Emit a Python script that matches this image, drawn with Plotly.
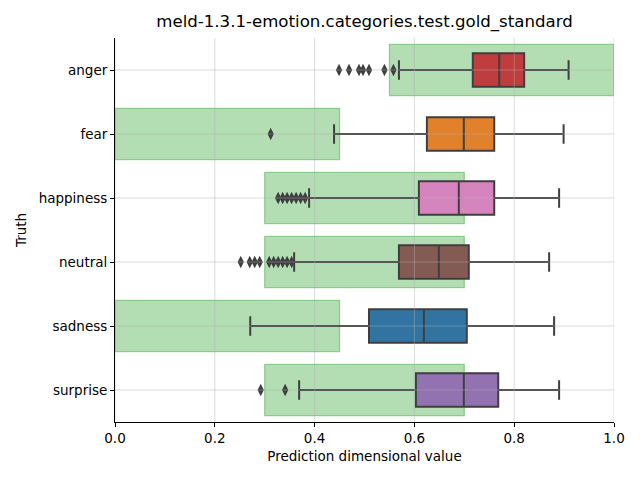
import plotly.graph_objects as go

categories = ["anger", "fear", "happiness", "neutral", "sadness", "surprise"]
q1 = [0.717, 0.625, 0.609, 0.569, 0.509, 0.603]
median = [0.770, 0.699, 0.689, 0.649, 0.619, 0.699]
q3 = [0.820, 0.760, 0.760, 0.709, 0.705, 0.768]
whisker_low = [0.569, 0.439, 0.389, 0.359, 0.271, 0.369]
whisker_high = [0.909, 0.899, 0.890, 0.870, 0.880, 0.890]
outliers = [
    [0.449, 0.469, 0.489, 0.497, 0.509, 0.540, 0.558],
    [0.312],
    [0.327, 0.336, 0.345, 0.354, 0.363, 0.372, 0.381],
    [0.252, 0.270, 0.280, 0.290, 0.309, 0.318, 0.327, 0.336, 0.345, 0.354],
    [],
    [0.292, 0.341],
]
gold_low = [0.55, 0.0, 0.3, 0.3, 0.0, 0.3]
gold_high = [1.0, 0.45, 0.7, 0.7, 0.45, 0.7]
colors = ["#c03d3e", "#e1812c", "#d684bd", "#845b53", "#3274a1", "#9372b2"]
x_ticks = [0.0, 0.2, 0.4, 0.6, 0.8, 1.0]
x_tick_labels = ["0.0", "0.2", "0.4", "0.6", "0.8", "1.0"]

line_gray = "#3f3f3f"
fig = go.Figure()

shapes = []
for i, cat in enumerate(categories):
    shapes.append(dict(type="rect", xref="x", yref="y",
                       x0=gold_low[i], x1=gold_high[i], y0=i - 0.4, y1=i + 0.4,
                       fillcolor="rgba(44,160,44,0.36)",
                       line=dict(color="rgba(44,160,44,0.45)", width=1.2),
                       layer="below"))

for i, cat in enumerate(categories):
    fig.add_trace(go.Box(
        y=[cat], q1=[q1[i]], median=[median[i]], q3=[q3[i]],
        lowerfence=[whisker_low[i]], upperfence=[whisker_high[i]],
        orientation="h", width=0.52, whiskerwidth=0.58,
        fillcolor=colors[i], line=dict(color=line_gray, width=2),
        boxpoints=False, showlegend=False, hoverinfo="skip"))
    if outliers[i]:
        fig.add_trace(go.Scatter(
            x=outliers[i], y=[cat] * len(outliers[i]), mode="markers",
            marker=dict(symbol="diamond-tall", size=9, color=line_gray),
            showlegend=False, hoverinfo="skip"))

# grid lines drawn on top (translucent), as in the reference
for t in x_ticks:
    shapes.append(dict(type="line", xref="x", yref="paper", x0=t, x1=t, y0=0, y1=1,
                       line=dict(color="rgba(176,176,176,0.45)", width=1), layer="above"))
for i, cat in enumerate(categories):
    shapes.append(dict(type="line", xref="paper", yref="y", x0=0, x1=1, y0=i, y1=i,
                       line=dict(color="rgba(176,176,176,0.45)", width=1), layer="above"))

fig.update_layout(
    width=640, height=480,
    margin=dict(l=107, r=34, t=30, b=66),
    paper_bgcolor="white", plot_bgcolor="white",
    font=dict(family="DejaVu Sans", size=13.5, color="black"),
    title=dict(text="meld-1.3.1-emotion.categories.test.gold_standard",
               x=0.5, xref="paper", xanchor="center", y=0.972, yanchor="middle",
               font=dict(size=16.6)),
    boxmode="overlay",
    shapes=shapes,
    xaxis=dict(range=[0, 1], tickvals=x_ticks, ticktext=x_tick_labels,
               showgrid=False, zeroline=False, showline=True, linecolor="black",
               linewidth=1, ticks="outside", ticklen=4, tickcolor="black",
               tickfont=dict(size=13.5),
               title=dict(text="Prediction dimensional value", standoff=6,
                          font=dict(size=13.5))),
    yaxis=dict(type="category", categoryorder="array", categoryarray=categories,
               range=[5.5, -0.5], showgrid=False, zeroline=False, showline=True,
               linecolor="black", linewidth=1, ticks="outside", ticklen=4,
               tickcolor="black", tickfont=dict(size=13.5),
               title=dict(text="Truth", standoff=8, font=dict(size=13.5))),
)

fig.write_html("out.html")
